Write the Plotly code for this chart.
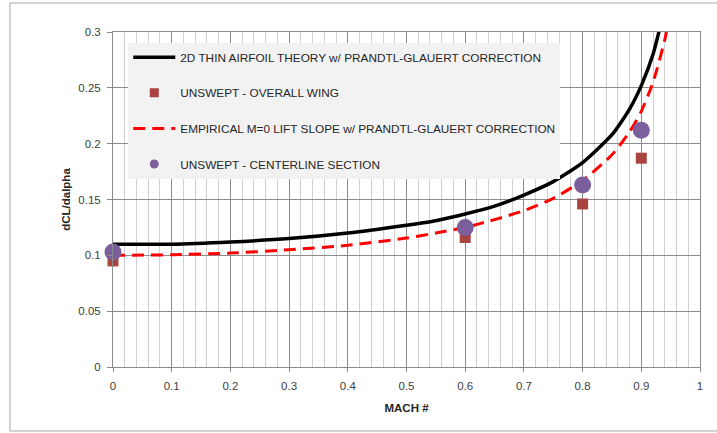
import plotly.graph_objects as go

# Mach numbers and curve values
mach_theory = [0, 0.1, 0.2, 0.3, 0.4, 0.5, 0.55, 0.6, 0.65, 0.7, 0.75, 0.8, 0.85, 0.88, 0.9, 0.92, 0.94]
theory = [0.110, 0.110, 0.112, 0.115, 0.120, 0.127, 0.131, 0.137, 0.144, 0.154, 0.166, 0.183, 0.208, 0.231, 0.252, 0.280, 0.322]

mach_emp = [0, 0.1, 0.2, 0.3, 0.4, 0.5, 0.55, 0.6, 0.65, 0.7, 0.75, 0.8, 0.85, 0.88, 0.9, 0.92, 0.94, 0.95]
empirical = [0.100, 0.1005, 0.102, 0.105, 0.109, 0.1155, 0.120, 0.125, 0.132, 0.140, 0.151, 0.167, 0.190, 0.2105, 0.229, 0.255, 0.293, 0.320]

mach_pts = [0, 0.6, 0.8, 0.9]
overall_wing = [0.095, 0.116, 0.146, 0.187]
centerline = [0.103, 0.125, 0.163, 0.212]

names = [
    "2D THIN AIRFOIL THEORY w/ PRANDTL-GLAUERT CORRECTION",
    "UNSWEPT - OVERALL WING",
    "EMPIRICAL M=0 LIFT SLOPE w/ PRANDTL-GLAUERT CORRECTION",
    "UNSWEPT - CENTERLINE SECTION",
]

BLACK_LINE = dict(color="black", width=3.5, shape="spline", smoothing=0.6)
RED_LINE = dict(color="#ff0000", width=3, dash="12px,7px", shape="spline", smoothing=0.6)
SQ_COLOR = "#a94441"
CIRC_COLOR = "#7b5e9c"

fig = go.Figure()
# data traces (no legend entries)
fig.add_trace(go.Scatter(x=mach_theory, y=theory, mode="lines", line=BLACK_LINE, showlegend=False))
fig.add_trace(go.Scatter(x=mach_pts, y=overall_wing, mode="markers",
                         marker=dict(symbol="square", size=11, color=SQ_COLOR),
                         cliponaxis=False, showlegend=False))
fig.add_trace(go.Scatter(x=mach_emp, y=empirical, mode="lines", line=RED_LINE, showlegend=False))
fig.add_trace(go.Scatter(x=mach_pts, y=centerline, mode="markers",
                         marker=dict(symbol="circle", size=17, color=CIRC_COLOR),
                         cliponaxis=False, showlegend=False))

# legend entries (smaller legend symbols as in the reference)
fig.add_trace(go.Scatter(x=[None], y=[None], mode="lines", name=names[0], line=BLACK_LINE, legendgroup="a"))
fig.add_trace(go.Scatter(x=[None], y=[None], mode="markers", name=names[1],
                         marker=dict(symbol="square", size=9, color=SQ_COLOR), legendgroup="b"))
fig.add_trace(go.Scatter(x=[None], y=[None], mode="lines", name=names[2], line=RED_LINE, legendgroup="c"))
fig.add_trace(go.Scatter(x=[None], y=[None], mode="markers", name=names[3],
                         marker=dict(symbol="circle", size=9, color=CIRC_COLOR), legendgroup="d"))

font_family = "Liberation Sans, Arial, sans-serif"
fig.update_layout(
    width=717, height=433,
    margin=dict(l=113, r=17, t=32, b=66),
    paper_bgcolor="white", plot_bgcolor="white",
    font=dict(family=font_family, size=11, color="#404040"),
    showlegend=True,
    legend=dict(x=0.026, y=0.968, xanchor="left", yanchor="top",
                bgcolor="#f2f2f2", borderwidth=0,
                font=dict(size=11.8, color="#262626"),
                tracegroupgap=16.6, traceorder="grouped",
                itemwidth=42),
    xaxis=dict(range=[0, 1], dtick=0.1, tick0=0, showgrid=True, gridcolor="#8c8c8c", gridwidth=1,
               minor=dict(dtick=0.02, tick0=0, showgrid=True, gridcolor="#d0d0d0", gridwidth=1),
               showline=True, linecolor="#8c8c8c", mirror=True, zeroline=False,
               ticks="outside", ticklen=4, tickcolor="#8c8c8c", ticklabelstandoff=4,
               tickfont=dict(size=11.5, color="#404040"),
               title=dict(text="<b>MACH #</b>", font=dict(size=11.5, color="#262626"), standoff=13)),
    yaxis=dict(range=[0, 0.3], dtick=0.05, tick0=0, showgrid=True, gridcolor="#8c8c8c", gridwidth=1,
               showline=True, linecolor="#8c8c8c", mirror=True, zeroline=False,
               ticks="outside", ticklen=5, tickcolor="#8c8c8c", ticklabelstandoff=4,
               tickfont=dict(size=11.5, color="#404040"),
               title=dict(text="<b>dCL/dalpha</b>", font=dict(size=11.5, color="#262626"), standoff=5)),
    shapes=[dict(type="rect", xref="paper", yref="paper",
                 x0=-0.1755, x1=1.04, y0=-0.191, y1=1.0866,
                 line=dict(color="#a6a6a6", width=1), layer="below")],
)

fig.write_html("out.html")
